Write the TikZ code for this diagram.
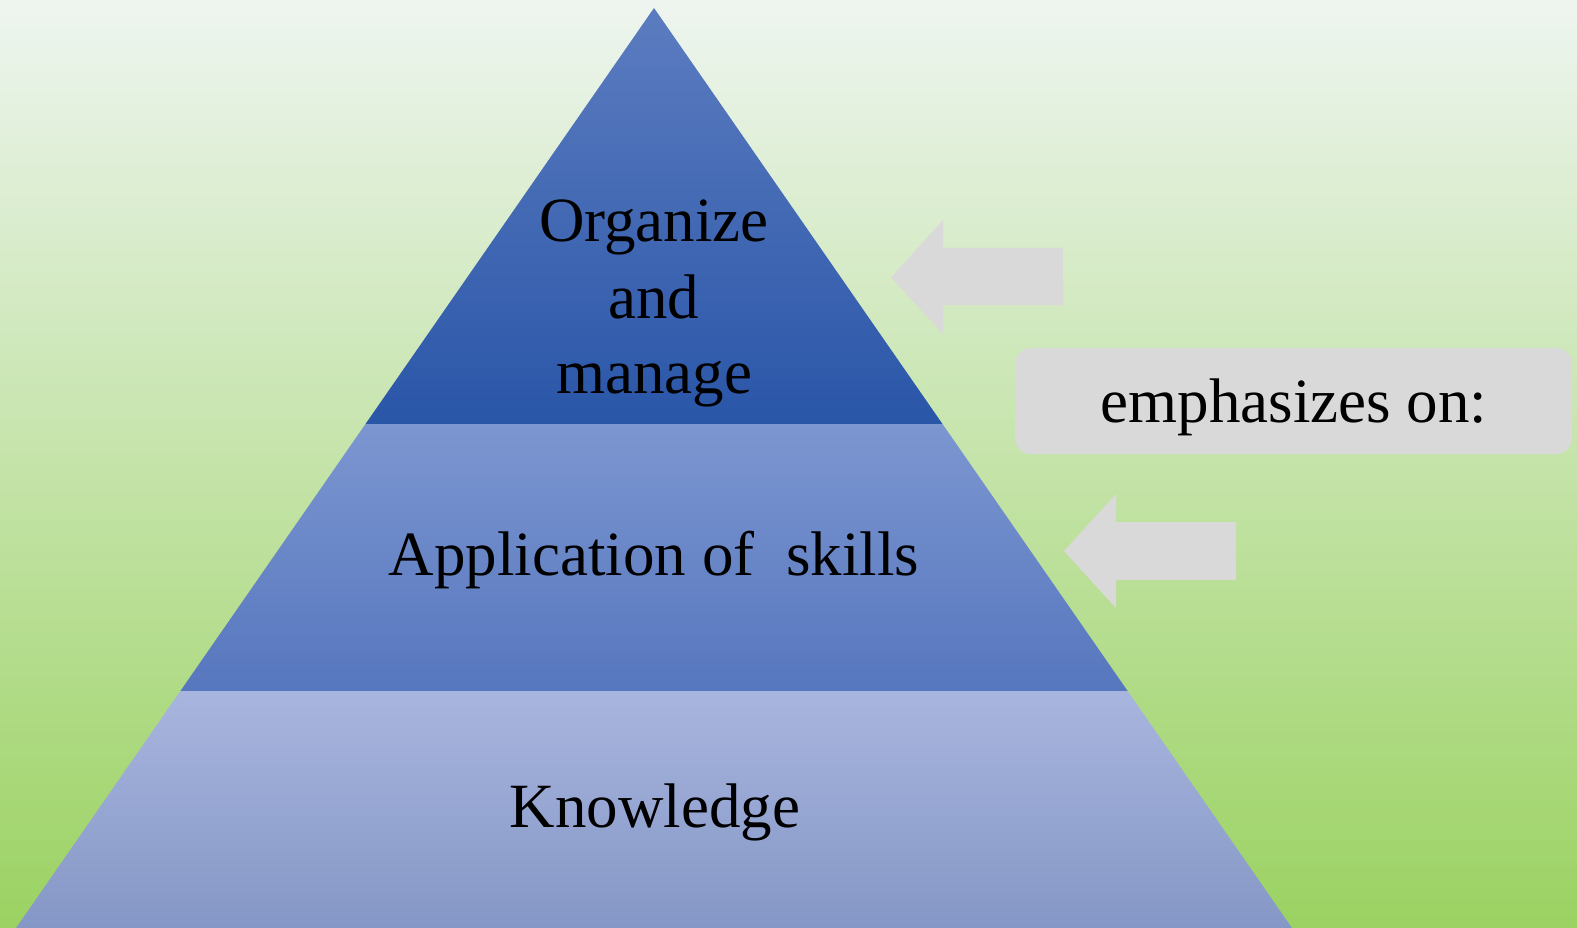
\documentclass[tikz,border=0pt]{standalone}
\usepackage{fontspec}
\setmainfont{Liberation Serif}
\definecolor{bgTop}{RGB}{238,245,240}
\definecolor{bgBot}{RGB}{155,210,98}
\definecolor{t1Top}{RGB}{92,124,192}
\definecolor{t1Bot}{RGB}{42,86,168}
\definecolor{t2Top}{RGB}{124,150,208}
\definecolor{t2Bot}{RGB}{86,118,190}
\definecolor{t3Top}{RGB}{168,181,222}
\definecolor{t3Bot}{RGB}{133,151,198}
\definecolor{shapeGray}{RGB}{217,217,217}
\tikzset{
  bigtext/.style={font=\fontsize{63}{76}\selectfont, text=black, inner sep=0pt, anchor=base},
  grayarrow/.style={fill=shapeGray, draw=none},
  emphbox/.style={fill=shapeGray, draw=none, rounded corners=16pt, minimum width=557pt, minimum height=106pt, inner sep=0pt}
}
\begin{document}
\begin{tikzpicture}[x=1pt,y=-1pt]
\useasboundingbox (0,0) rectangle (1577,928);
% background
\shade[top color=bgTop, bottom color=bgBot] (0,0) rectangle (1577,928);
% pyramid coordinates
\coordinate (apex) at (654,8);
\coordinate (l1) at (365.5,424);
\coordinate (r1) at (942.5,424);
\coordinate (l2) at (180.4,691);
\coordinate (r2) at (1127.6,691);
\coordinate (l3) at (16,928);
\coordinate (r3) at (1292,928);
% bands
\shade[top color=t1Top, bottom color=t1Bot] (apex) -- (r1) -- (l1) -- cycle;
\shade[top color=t2Top, bottom color=t2Bot] (l1) -- (r1) -- (r2) -- (l2) -- cycle;
\shade[top color=t3Top, bottom color=t3Bot] (l2) -- (r2) -- (r3) -- (l3) -- cycle;
% texts
\node[bigtext] (org1) at (654,241) {Organize};
\node[bigtext] (org2) at (654,318) {and};
\node[bigtext] (org3) at (654,393) {manage};
\node[bigtext] (app) at (654,575) {Application of\ \ skills};
\node[bigtext] (know) at (655,827) {Knowledge};
% gray arrows
\fill[grayarrow] (891,277.5) -- (943,220) -- (943,248) -- (1063,248) -- (1063,305) -- (943,305) -- (943,334) -- cycle;
\fill[grayarrow] (1064,551) -- (1116,494) -- (1116,522) -- (1236,522) -- (1236,580) -- (1116,580) -- (1116,608) -- cycle;
% emphasis box
\node[emphbox] (emph) at (1293.5,401) {};
\node[bigtext] (emphtext) at (1294,422) {emphasizes on:};
\end{tikzpicture}
\end{document}
